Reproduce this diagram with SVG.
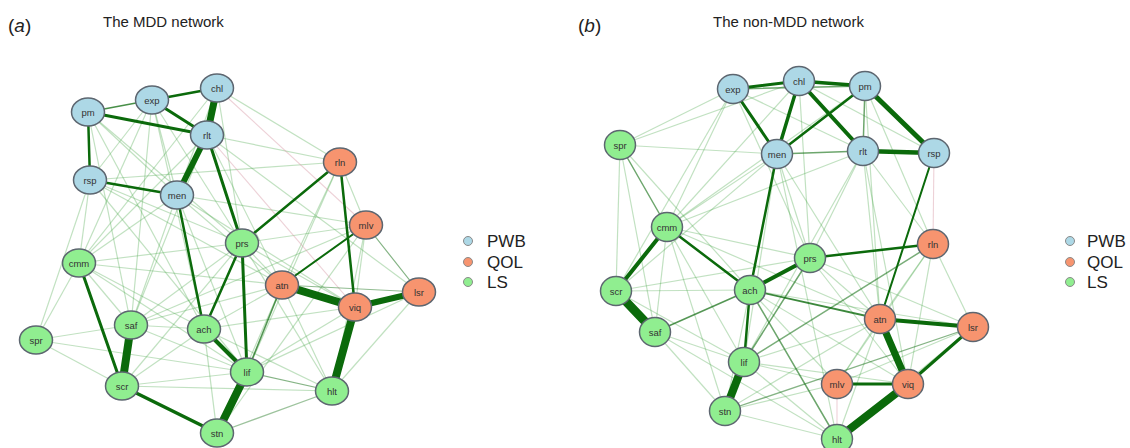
<svg xmlns="http://www.w3.org/2000/svg" width="1130" height="448" viewBox="0 0 1130 448">
<style>
text{font-family:"Liberation Sans",Arial,Helvetica,sans-serif}
.t{font-size:15px;fill:#222}
.pl{font-size:19px;fill:#222}
.lg{font-size:17px;fill:#222}
.nl{font-size:9.5px;fill:#333;text-anchor:middle;dominant-baseline:central}
.f line{stroke:#4aa84a;stroke-opacity:.34;stroke-width:1.2}
.p line{stroke:#d89aa6;stroke-opacity:.45;stroke-width:1.1}
.s line{stroke:#0b6a0b;stroke-linecap:round}
.pwb{fill:#add8e6}
.qol{fill:#f7946f}
.ls{fill:#90ee90}
.n ellipse{stroke:#5d6670;stroke-width:1.5}
.lc{stroke:#8a8a8a;stroke-width:1}
</style>
<rect width="1130" height="448" fill="#fff"/>
<text class="pl" x="8" y="32">(<tspan font-style="italic">a</tspan>)</text>
<text class="t" x="103" y="27">The MDD network</text>
<text class="pl" x="578" y="32">(<tspan font-style="italic">b</tspan>)</text>
<text class="t" x="713" y="27">The non-MDD network</text>

<g id="connectors">
<g id="edges-a-faint" class="f">
<line x1="88" y1="112" x2="177" y2="195"/><line x1="88" y1="112" x2="242" y2="243"/><line x1="88" y1="112" x2="204" y2="329"/><line x1="88" y1="112" x2="131" y2="325"/>
<line x1="152" y1="100" x2="177" y2="195"/><line x1="152" y1="100" x2="90" y2="180"/><line x1="152" y1="100" x2="242" y2="243"/><line x1="152" y1="100" x2="79" y2="263"/><line x1="152" y1="100" x2="131" y2="325"/><line x1="152" y1="100" x2="204" y2="329"/>
<line x1="217" y1="88" x2="340" y2="162"/><line x1="217" y1="88" x2="242" y2="243"/><line x1="217" y1="88" x2="177" y2="195"/><line x1="217" y1="88" x2="79" y2="263"/>
<line x1="207" y1="135" x2="340" y2="162"/><line x1="207" y1="135" x2="282" y2="285"/><line x1="207" y1="135" x2="419" y2="292"/><line x1="207" y1="135" x2="79" y2="263"/><line x1="207" y1="135" x2="131" y2="325"/>
<line x1="90" y1="180" x2="340" y2="162"/><line x1="90" y1="180" x2="79" y2="263"/><line x1="90" y1="180" x2="36" y2="340"/><line x1="90" y1="180" x2="242" y2="243"/><line x1="90" y1="180" x2="247" y2="372"/><line x1="90" y1="180" x2="282" y2="285"/>
<line x1="177" y1="195" x2="366" y2="225"/><line x1="177" y1="195" x2="282" y2="285"/><line x1="177" y1="195" x2="79" y2="263"/><line x1="177" y1="195" x2="131" y2="325"/><line x1="177" y1="195" x2="247" y2="372"/><line x1="177" y1="195" x2="355" y2="307"/>
<line x1="242" y1="243" x2="366" y2="225"/><line x1="242" y1="243" x2="79" y2="263"/><line x1="242" y1="243" x2="131" y2="325"/><line x1="242" y1="243" x2="282" y2="285"/><line x1="242" y1="243" x2="332" y2="391"/><line x1="242" y1="243" x2="355" y2="307"/><line x1="242" y1="243" x2="122" y2="386"/>
<line x1="79" y1="263" x2="36" y2="340"/><line x1="79" y1="263" x2="131" y2="325"/><line x1="79" y1="263" x2="204" y2="329"/><line x1="79" y1="263" x2="282" y2="285"/><line x1="79" y1="263" x2="247" y2="372"/>
<line x1="36" y1="340" x2="122" y2="386"/><line x1="36" y1="340" x2="247" y2="372"/><line x1="36" y1="340" x2="131" y2="325"/>
<line x1="131" y1="325" x2="204" y2="329"/><line x1="131" y1="325" x2="282" y2="285"/><line x1="131" y1="325" x2="247" y2="372"/><line x1="131" y1="325" x2="366" y2="225"/>
<line x1="122" y1="386" x2="204" y2="329"/><line x1="122" y1="386" x2="247" y2="372"/><line x1="122" y1="386" x2="332" y2="391"/>
<line x1="204" y1="329" x2="282" y2="285"/><line x1="204" y1="329" x2="217" y2="433"/><line x1="204" y1="329" x2="332" y2="391"/><line x1="204" y1="329" x2="355" y2="307"/>
<line x1="247" y1="372" x2="355" y2="307"/><line x1="217" y1="433" x2="282" y2="285"/>
<line x1="340" y1="162" x2="282" y2="285"/><line x1="340" y1="162" x2="247" y2="372"/><line x1="340" y1="162" x2="366" y2="225"/>
<line x1="366" y1="225" x2="355" y2="307"/><line x1="366" y1="225" x2="217" y2="433"/><line x1="282" y1="285" x2="332" y2="391"/><line x1="419" y1="292" x2="332" y2="391"/><line x1="419" y1="292" x2="247" y2="372"/><line x1="366" y1="225" x2="332" y2="391"/>
</g>
<g id="edges-a-neg" class="p">
<line x1="217" y1="88" x2="366" y2="225"/><line x1="207" y1="135" x2="355" y2="307"/>
</g>
<g id="edges-a" class="s">
<line x1="88" y1="112" x2="152" y2="100" stroke-width="1.6" stroke-opacity=".75"/>
<line x1="247" y1="372" x2="332" y2="391" stroke-width="1.2" stroke-opacity=".5"/>
<line x1="366" y1="225" x2="419" y2="292" stroke-width="1.2" stroke-opacity=".5"/>
<line x1="282" y1="285" x2="419" y2="292" stroke-width="1.2" stroke-opacity=".45"/>
<line x1="332" y1="391" x2="217" y2="433" stroke-width="1.2" stroke-opacity=".4"/>
<line x1="282" y1="285" x2="247" y2="372" stroke-width="1.6" stroke-opacity=".7"/>
<line x1="88" y1="112" x2="207" y2="135" stroke-width="3"/>
<line x1="152" y1="100" x2="207" y2="135" stroke-width="3"/>
<line x1="152" y1="100" x2="217" y2="88" stroke-width="2.5"/>
<line x1="88" y1="112" x2="90" y2="180" stroke-width="2.5"/>
<line x1="90" y1="180" x2="177" y2="195" stroke-width="2.5"/>
<line x1="207" y1="135" x2="242" y2="243" stroke-width="3"/>
<line x1="177" y1="195" x2="204" y2="329" stroke-width="2.5"/>
<line x1="242" y1="243" x2="340" y2="162" stroke-width="2.5"/>
<line x1="242" y1="243" x2="204" y2="329" stroke-width="2.5"/>
<line x1="242" y1="243" x2="247" y2="372" stroke-width="3"/>
<line x1="340" y1="162" x2="355" y2="307" stroke-width="2.5"/>
<line x1="366" y1="225" x2="282" y2="285" stroke-width="2"/>
<line x1="204" y1="329" x2="247" y2="372" stroke-width="4"/>
<line x1="79" y1="263" x2="122" y2="386" stroke-width="3"/>
<line x1="122" y1="386" x2="217" y2="433" stroke-width="3.5"/>
<line x1="217" y1="88" x2="207" y2="135" stroke-width="7"/>
<line x1="207" y1="135" x2="177" y2="195" stroke-width="6"/>
<line x1="282" y1="285" x2="355" y2="307" stroke-width="8"/>
<line x1="355" y1="307" x2="419" y2="292" stroke-width="6"/>
<line x1="355" y1="307" x2="332" y2="391" stroke-width="8"/>
<line x1="247" y1="372" x2="217" y2="433" stroke-width="8"/>
<line x1="131" y1="325" x2="122" y2="386" stroke-width="8"/>
</g>

<g id="edges-b-faint" class="f">
<line x1="620" y1="145" x2="733" y2="89"/><line x1="620" y1="145" x2="799" y2="81"/><line x1="620" y1="145" x2="616" y2="291"/><line x1="620" y1="145" x2="655" y2="332"/><line x1="620" y1="145" x2="777" y2="154"/><line x1="620" y1="145" x2="750" y2="290"/>
<line x1="733" y1="89" x2="667" y2="227"/><line x1="733" y1="89" x2="863" y2="151"/><line x1="733" y1="89" x2="810" y2="258"/><line x1="733" y1="89" x2="616" y2="291"/>
<line x1="799" y1="81" x2="934" y2="153"/><line x1="799" y1="81" x2="810" y2="258"/><line x1="799" y1="81" x2="667" y2="227"/>
<line x1="777" y1="154" x2="667" y2="227"/><line x1="777" y1="154" x2="616" y2="291"/><line x1="777" y1="154" x2="810" y2="258"/><line x1="777" y1="154" x2="880" y2="319"/><line x1="777" y1="154" x2="744" y2="362"/><line x1="777" y1="154" x2="837" y2="439"/>
<line x1="863" y1="151" x2="810" y2="258"/><line x1="863" y1="151" x2="744" y2="362"/><line x1="863" y1="151" x2="933" y2="244"/><line x1="863" y1="151" x2="880" y2="319"/><line x1="863" y1="151" x2="908" y2="384"/><line x1="863" y1="151" x2="667" y2="227"/>
<line x1="865" y1="86" x2="880" y2="319"/><line x1="865" y1="86" x2="933" y2="244"/><line x1="865" y1="86" x2="667" y2="227"/>
<line x1="667" y1="227" x2="810" y2="258"/><line x1="667" y1="227" x2="744" y2="362"/><line x1="667" y1="227" x2="655" y2="332"/><line x1="667" y1="227" x2="725" y2="411"/><line x1="667" y1="227" x2="880" y2="319"/>
<line x1="616" y1="291" x2="750" y2="290"/><line x1="616" y1="291" x2="810" y2="258"/><line x1="616" y1="291" x2="744" y2="362"/>
<line x1="655" y1="332" x2="744" y2="362"/><line x1="655" y1="332" x2="725" y2="411"/><line x1="655" y1="332" x2="837" y2="439"/>
<line x1="750" y1="290" x2="725" y2="411"/><line x1="750" y1="290" x2="837" y2="384"/><line x1="750" y1="290" x2="908" y2="384"/><line x1="750" y1="290" x2="973" y2="327"/>
<line x1="810" y1="258" x2="880" y2="319"/><line x1="810" y1="258" x2="908" y2="384"/><line x1="810" y1="258" x2="973" y2="327"/>
<line x1="744" y1="362" x2="880" y2="319"/><line x1="744" y1="362" x2="837" y2="384"/><line x1="744" y1="362" x2="908" y2="384"/><line x1="744" y1="362" x2="837" y2="439"/>
<line x1="725" y1="411" x2="880" y2="319"/><line x1="725" y1="411" x2="837" y2="384"/><line x1="725" y1="411" x2="837" y2="439"/>
<line x1="933" y1="244" x2="880" y2="319"/><line x1="933" y1="244" x2="908" y2="384"/><line x1="933" y1="244" x2="973" y2="327"/><line x1="933" y1="244" x2="837" y2="384"/>
<line x1="880" y1="319" x2="837" y2="384"/><line x1="973" y1="327" x2="837" y2="384"/><line x1="973" y1="327" x2="837" y2="439"/><line x1="880" y1="319" x2="837" y2="439"/>
</g>
<g id="edges-b-neg" class="p">
<line x1="934" y1="153" x2="933" y2="244"/><line x1="837" y1="384" x2="837" y2="439"/>
</g>
<g id="edges-b" class="s">
<line x1="733" y1="89" x2="865" y2="86" stroke-width="1.5" stroke-opacity=".6"/>
<line x1="620" y1="145" x2="667" y2="227" stroke-width="1.5" stroke-opacity=".6"/>
<line x1="865" y1="86" x2="863" y2="151" stroke-width="1.5" stroke-opacity=".6"/>
<line x1="777" y1="154" x2="863" y2="151" stroke-width="1.5" stroke-opacity=".6"/>
<line x1="810" y1="258" x2="744" y2="362" stroke-width="1.5" stroke-opacity=".6"/>
<line x1="750" y1="290" x2="837" y2="439" stroke-width="1.5" stroke-opacity=".6"/>
<line x1="744" y1="362" x2="933" y2="244" stroke-width="1.5" stroke-opacity=".55"/>
<line x1="725" y1="411" x2="973" y2="327" stroke-width="1.3" stroke-opacity=".5"/>
<line x1="655" y1="332" x2="750" y2="290" stroke-width="1.5" stroke-opacity=".7"/>
<line x1="750" y1="290" x2="880" y2="319" stroke-width="1.8" stroke-opacity=".8"/>
<line x1="733" y1="89" x2="777" y2="154" stroke-width="3"/>
<line x1="799" y1="81" x2="777" y2="154" stroke-width="3.5"/>
<line x1="865" y1="86" x2="777" y2="154" stroke-width="2.5"/>
<line x1="777" y1="154" x2="750" y2="290" stroke-width="2.5"/>
<line x1="667" y1="227" x2="616" y2="291" stroke-width="4"/>
<line x1="667" y1="227" x2="750" y2="290" stroke-width="2.5"/>
<line x1="750" y1="290" x2="810" y2="258" stroke-width="4"/>
<line x1="750" y1="290" x2="744" y2="362" stroke-width="2.5"/>
<line x1="810" y1="258" x2="933" y2="244" stroke-width="2.5"/>
<line x1="880" y1="319" x2="973" y2="327" stroke-width="4"/>
<line x1="973" y1="327" x2="908" y2="384" stroke-width="3"/>
<line x1="837" y1="384" x2="908" y2="384" stroke-width="3"/>
<line x1="934" y1="153" x2="880" y2="319" stroke-width="2"/>
<line x1="733" y1="89" x2="799" y2="81" stroke-width="3"/>
<line x1="799" y1="81" x2="865" y2="86" stroke-width="3.5"/>
<line x1="799" y1="81" x2="863" y2="151" stroke-width="4"/>
<line x1="863" y1="151" x2="934" y2="153" stroke-width="4.5"/>
<line x1="865" y1="86" x2="934" y2="153" stroke-width="5"/>
<line x1="616" y1="291" x2="655" y2="332" stroke-width="9"/>
<line x1="744" y1="362" x2="725" y2="411" stroke-width="8"/>
<line x1="880" y1="319" x2="908" y2="384" stroke-width="7"/>
<line x1="908" y1="384" x2="837" y2="439" stroke-width="8"/>
</g>
</g>

<g id="nodes-a" class="n">
<g id="a-pm"><ellipse class="pwb" cx="88" cy="112" rx="16.5" ry="14"/><text class="nl" x="88" y="112">pm</text></g>
<g id="a-exp"><ellipse class="pwb" cx="152" cy="100" rx="16.5" ry="14"/><text class="nl" x="152" y="100">exp</text></g>
<g id="a-chl"><ellipse class="pwb" cx="217" cy="88" rx="16.5" ry="14"/><text class="nl" x="217" y="88">chl</text></g>
<g id="a-rlt"><ellipse class="pwb" cx="207" cy="135" rx="16.5" ry="14"/><text class="nl" x="207" y="135">rlt</text></g>
<g id="a-rsp"><ellipse class="pwb" cx="90" cy="180" rx="16.5" ry="14"/><text class="nl" x="90" y="180">rsp</text></g>
<g id="a-men"><ellipse class="pwb" cx="177" cy="195" rx="16.5" ry="14"/><text class="nl" x="177" y="195">men</text></g>
<g id="a-rln"><ellipse class="qol" cx="340" cy="162" rx="16.5" ry="14"/><text class="nl" x="340" y="162">rln</text></g>
<g id="a-mlv"><ellipse class="qol" cx="366" cy="225" rx="16.5" ry="14"/><text class="nl" x="366" y="225">mlv</text></g>
<g id="a-atn"><ellipse class="qol" cx="282" cy="285" rx="16.5" ry="14"/><text class="nl" x="282" y="285">atn</text></g>
<g id="a-viq"><ellipse class="qol" cx="355" cy="307" rx="16.5" ry="14"/><text class="nl" x="355" y="307">viq</text></g>
<g id="a-lsr"><ellipse class="qol" cx="419" cy="292" rx="16.5" ry="14"/><text class="nl" x="419" y="292">lsr</text></g>
<g id="a-prs"><ellipse class="ls" cx="242" cy="243" rx="16.5" ry="14"/><text class="nl" x="242" y="243">prs</text></g>
<g id="a-cmm"><ellipse class="ls" cx="79" cy="263" rx="16.5" ry="14"/><text class="nl" x="79" y="263">cmm</text></g>
<g id="a-spr"><ellipse class="ls" cx="36" cy="340" rx="16.5" ry="14"/><text class="nl" x="36" y="340">spr</text></g>
<g id="a-saf"><ellipse class="ls" cx="131" cy="325" rx="16.5" ry="14"/><text class="nl" x="131" y="325">saf</text></g>
<g id="a-ach"><ellipse class="ls" cx="204" cy="329" rx="16.5" ry="14"/><text class="nl" x="204" y="329">ach</text></g>
<g id="a-scr"><ellipse class="ls" cx="122" cy="386" rx="16.5" ry="14"/><text class="nl" x="122" y="386">scr</text></g>
<g id="a-lif"><ellipse class="ls" cx="247" cy="372" rx="16.5" ry="14"/><text class="nl" x="247" y="372">lif</text></g>
<g id="a-hlt"><ellipse class="ls" cx="332" cy="391" rx="16.5" ry="14"/><text class="nl" x="332" y="391">hlt</text></g>
<g id="a-stn"><ellipse class="ls" cx="217" cy="433" rx="16.5" ry="14"/><text class="nl" x="217" y="433">stn</text></g>
</g>

<g id="nodes-b" class="n">
<g id="b-exp"><ellipse class="pwb" cx="733" cy="89" rx="15.5" ry="14.5"/><text class="nl" x="733" y="89">exp</text></g>
<g id="b-chl"><ellipse class="pwb" cx="799" cy="81" rx="15.5" ry="14.5"/><text class="nl" x="799" y="81">chl</text></g>
<g id="b-pm"><ellipse class="pwb" cx="865" cy="86" rx="15.5" ry="14.5"/><text class="nl" x="865" y="86">pm</text></g>
<g id="b-men"><ellipse class="pwb" cx="777" cy="154" rx="15.5" ry="14.5"/><text class="nl" x="777" y="154">men</text></g>
<g id="b-rlt"><ellipse class="pwb" cx="863" cy="151" rx="15.5" ry="14.5"/><text class="nl" x="863" y="151">rlt</text></g>
<g id="b-rsp"><ellipse class="pwb" cx="934" cy="153" rx="15.5" ry="14.5"/><text class="nl" x="934" y="153">rsp</text></g>
<g id="b-rln"><ellipse class="qol" cx="933" cy="244" rx="15.5" ry="14.5"/><text class="nl" x="933" y="244">rln</text></g>
<g id="b-atn"><ellipse class="qol" cx="880" cy="319" rx="15.5" ry="14.5"/><text class="nl" x="880" y="319">atn</text></g>
<g id="b-lsr"><ellipse class="qol" cx="973" cy="327" rx="15.5" ry="14.5"/><text class="nl" x="973" y="327">lsr</text></g>
<g id="b-mlv"><ellipse class="qol" cx="837" cy="384" rx="15.5" ry="14.5"/><text class="nl" x="837" y="384">mlv</text></g>
<g id="b-viq"><ellipse class="qol" cx="908" cy="384" rx="15.5" ry="14.5"/><text class="nl" x="908" y="384">viq</text></g>
<g id="b-spr"><ellipse class="ls" cx="620" cy="145" rx="15.5" ry="14.5"/><text class="nl" x="620" y="145">spr</text></g>
<g id="b-cmm"><ellipse class="ls" cx="667" cy="227" rx="15.5" ry="14.5"/><text class="nl" x="667" y="227">cmm</text></g>
<g id="b-prs"><ellipse class="ls" cx="810" cy="258" rx="15.5" ry="14.5"/><text class="nl" x="810" y="258">prs</text></g>
<g id="b-scr"><ellipse class="ls" cx="616" cy="291" rx="15.5" ry="14.5"/><text class="nl" x="616" y="291">scr</text></g>
<g id="b-ach"><ellipse class="ls" cx="750" cy="290" rx="15.5" ry="14.5"/><text class="nl" x="750" y="290">ach</text></g>
<g id="b-saf"><ellipse class="ls" cx="655" cy="332" rx="15.5" ry="14.5"/><text class="nl" x="655" y="332">saf</text></g>
<g id="b-lif"><ellipse class="ls" cx="744" cy="362" rx="15.5" ry="14.5"/><text class="nl" x="744" y="362">lif</text></g>
<g id="b-stn"><ellipse class="ls" cx="725" cy="411" rx="15.5" ry="14.5"/><text class="nl" x="725" y="411">stn</text></g>
<g id="b-hlt"><ellipse class="ls" cx="837" cy="439" rx="15.5" ry="14.5"/><text class="nl" x="837" y="439">hlt</text></g>
</g>

<g id="legend-a">
<circle class="pwb lc" cx="468" cy="241" r="4.5"/><text class="lg" x="487" y="247">PWB</text>
<circle class="qol lc" cx="468" cy="262" r="4.5"/><text class="lg" x="487" y="268">QOL</text>
<circle class="ls lc" cx="468" cy="282" r="4.5"/><text class="lg" x="487" y="288">LS</text>
</g>
<g id="legend-b">
<circle class="pwb lc" cx="1070" cy="241" r="4.5"/><text class="lg" x="1087" y="247">PWB</text>
<circle class="qol lc" cx="1070" cy="262" r="4.5"/><text class="lg" x="1087" y="268">QOL</text>
<circle class="ls lc" cx="1070" cy="282" r="4.5"/><text class="lg" x="1087" y="288">LS</text>
</g>
</svg>
